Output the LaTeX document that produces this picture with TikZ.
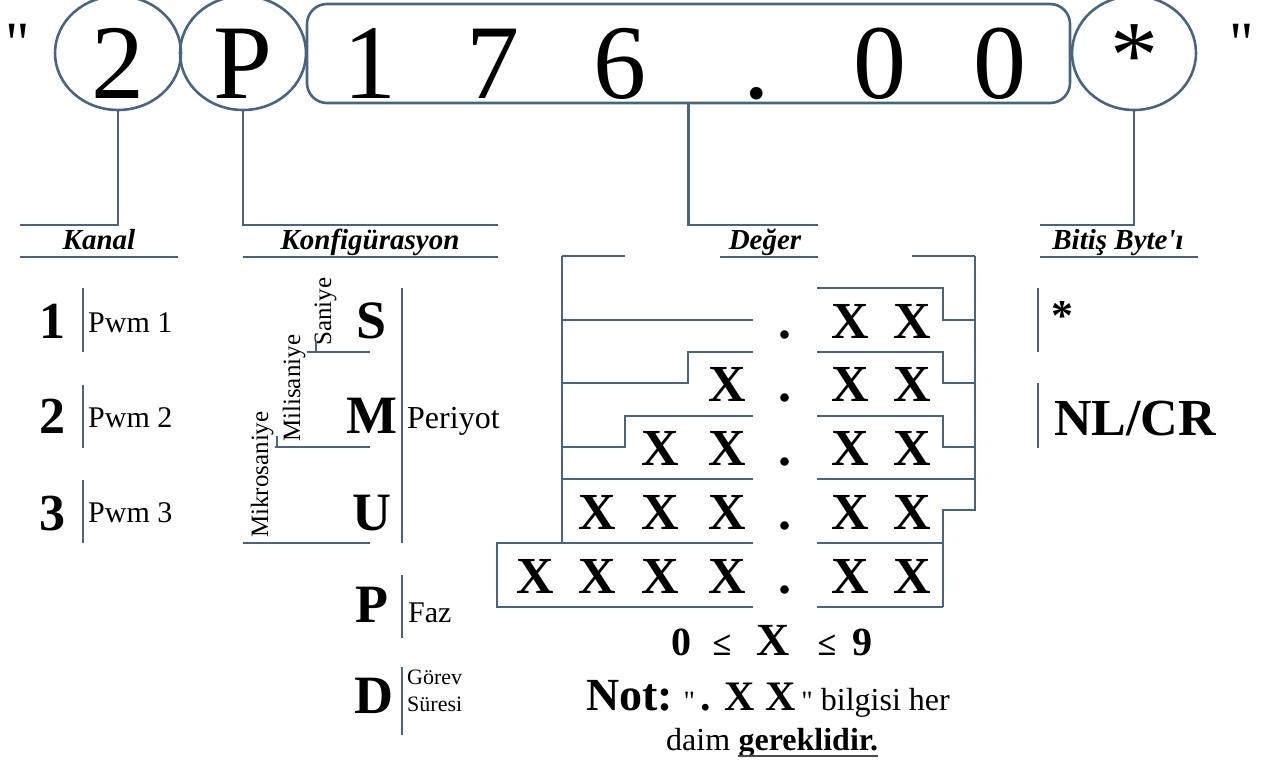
\documentclass[tikz,border=0pt]{standalone}
\usepackage{fontspec}
% plain family: straight quotes and apostrophes stay as typed
\newfontfamily\lib{Liberation Serif}
\newcommand\fsz[1]{\lib\fontsize{#1}{#1}\selectfont}
\usetikzlibrary{shapes.geometric}
\definecolor{lc}{HTML}{48647F}
\begin{document}
\begin{tikzpicture}[x=1pt,y=-1pt,
  ln/.style={draw=lc,line width=2.2pt},
  ring/.style={draw=lc,line width=2.6pt,inner sep=0pt},
  t/.style={inner sep=0pt,anchor=base,text=black},
  tl/.style={inner sep=0pt,anchor=base west,text=black},
  big/.style={t,font=\fsz{106}},
  hd/.style={t,font=\fsz{29}\bfseries\itshape},
  key/.style={t,font=\fsz{54}\bfseries},
  sm/.style={tl,font=\fsz{30}},
  vx/.style={t,font=\fsz{52}\bfseries},
  rot/.style={tl,rotate=90,font=\fsz{25}},
  qt/.style={t,font=\fsz{60}}]
\useasboundingbox (0,0) rectangle (1264,762);

% ---- command frame ----
\node[qt] (q1) at (18,64) {"};
\node[qt] (q2) at (1242,64) {"};
\node[ring,ellipse,minimum width=126pt,minimum height=114pt] (c2) at (118,53) {};
\node[ring,ellipse,minimum width=126pt,minimum height=114pt] (cP) at (243,53) {};
\node[ring,rounded corners=20pt,minimum width=763pt,minimum height=99pt] (val) at (688.5,53.5) {};
\node[ring,ellipse,minimum width=124pt,minimum height=114pt] (cS) at (1134,53) {};
\node[big] (d2) at (118,99) {2};
\node[big] (dP) at (243,99) {P};
\node[big] (v1) at (370,99) {1};
\node[big] (v2) at (493,99) {7};
\node[big] (v3) at (620,99) {6};
\node[big] (v4) at (757,99) {.};
\node[big] (v5) at (880,99) {0};
\node[big] (v6) at (1000,99) {0};
\node[t,font=\fsz{96}] (dS) at (1134,88) {*};

% ---- leaders to the headings ----
\coordinate (kA) at (20,225);
\coordinate (kB) at (498,225);
\coordinate (dA) at (818,225);
\coordinate (bA) at (1040,225);
\draw[ln] (c2.south) |- (kA);
\draw[ln] (cP.south) |- (kB);
\draw[ln] (val.south) |- (dA);
\draw[ln] (cS.south) |- (bA);

\draw[ln] (20,257) -- (178,257);
\draw[ln] (243,257) -- (498,257);
\draw[ln] (720,257) -- (818,257);
\draw[ln] (1040,257) -- (1198,257);
\node[hd] (hK) at (99,250) {Kanal};
\node[hd] (hC) at (370,250) {Konfigürasyon};
\node[hd] (hD) at (765,250) {Değer};
\node[hd] (hB) at (1118,250) {Bitiş Byte'ı};

% ---- channels ----
\node[key,font=\fsz{52}\bfseries] (k1) at (52,338) {1};
\node[key,font=\fsz{52}\bfseries] (k2) at (52,433) {2};
\node[key,font=\fsz{52}\bfseries] (k3) at (52,530) {3};
\draw[ln] (83,288) -- (83,352);
\draw[ln] (83,385) -- (83,448);
\draw[ln] (83,480) -- (83,543);
\node[sm] (p1) at (88,332) {Pwm 1};
\node[sm] (p2) at (88,427) {Pwm 2};
\node[sm] (p3) at (88,522) {Pwm 3};

% ---- configuration ----
\node[key] (cfS) at (372,338) {S};
\node[key] (cfM) at (372,433) {M};
\node[key] (cfU) at (372,530) {U};
\node[key] (cfP) at (372,622) {P};
\node[key] (cfD) at (374,713) {D};
\draw[ln] (402,288) -- (402,543);
\node[sm,font=\fsz{32}] (per) at (407,428) {Periyot};
\node[rot] (sn) at (331,346) {Saniye};
\node[rot] (ms) at (300,442) {Milisaniye};
\node[rot] (us) at (268,538) {Mikrosaniye};
\draw[ln] (307,352) -- (370,352);
\draw[ln] (316,341) -- (316,352);
\draw[ln] (275,447) -- (370,447);
\draw[ln] (277,436) -- (277,447);
\draw[ln] (243,543) -- (370,543);
\draw[ln] (402,575) -- (402,638);
\node[sm] (fz) at (408,622) {Faz};
\draw[ln] (402,667) -- (402,735);
\node[tl,font=\fsz{22}] (gv) at (407,684) {Görev};
\node[tl,font=\fsz{22}] (gs) at (407,711) {Süresi};

% ---- value formats ----
\draw[ln] (562,256) -- (625,256);
\draw[ln] (912,256) -- (975,256);
\draw[ln] (562,256) -- (562,543);
\draw[ln] (975,256) -- (975,510) -- (943,510) -- (943,607);
\draw[ln] (562,320) -- (753,320);
\draw[ln] (817,288) -- (943,288) -- (943,320) -- (975,320);
\draw[ln] (562,383) -- (688,383) -- (688,352) -- (753,352);
\draw[ln] (817,352) -- (943,352) -- (943,383) -- (975,383);
\draw[ln] (562,447) -- (625,447) -- (625,416) -- (753,416);
\draw[ln] (817,416) -- (943,416) -- (943,447) -- (975,447);
\draw[ln] (562,479) -- (753,479);
\draw[ln] (817,479) -- (975,479);
\draw[ln] (753,543) -- (497,543) -- (497,607) -- (753,607);
\draw[ln] (817,543) -- (943,543);
\draw[ln] (817,607) -- (943,607);

\foreach \r/\b in {1/338,2/401,3/465,4/529,5/593}{
  \node[vx] (r\r d) at (785,\b) {.};
  \node[vx] (r\r e) at (850,\b) {X};
  \node[vx] (r\r f) at (912,\b) {X};
}
\node[vx] (r2c) at (727,401) {X};
\node[vx] (r3b) at (660,465) {X};
\node[vx] (r3c) at (727,465) {X};
\node[vx] (r4a) at (597,529) {X};
\node[vx] (r4b) at (660,529) {X};
\node[vx] (r4c) at (727,529) {X};
\node[vx] (r5x) at (535,593) {X};
\node[vx] (r5a) at (597,593) {X};
\node[vx] (r5b) at (660,593) {X};
\node[vx] (r5c) at (727,593) {X};

% ---- range and note ----
\node[t,font=\fsz{40}\bfseries] (z0) at (681,655) {0};
\node[t,font=\fsz{34}\bfseries] (le1) at (722,655) {≤};
\node[t,font=\fsz{46}\bfseries] (zx) at (773,655) {X};
\node[t,font=\fsz{34}\bfseries] (le2) at (827,655) {≤};
\node[t,font=\fsz{40}\bfseries] (z9) at (862,655) {9};

\node[t,font=\fsz{32}] (nt) at (768,710)
  {{\fsz{46}\bfseries Not:} {\fsz{28}"}\,{\fsz{42}\bfseries . X X}\,{\fsz{28}"} bilgisi her};
\node[tl,font=\fsz{32}] (dm) at (666,750) {daim};
\node[tl,font=\fsz{32}\bfseries] (gk) at ([xshift=8pt]dm.base east) {gereklidir.};
\draw[black!70,line width=1.6pt] ([yshift=-6pt]gk.base west) -- ([yshift=-6pt]gk.base east);

% ---- end byte ----
\draw[ln] (1038,288) -- (1038,352);
\draw[ln] (1038,383) -- (1038,448);
\node[t,font=\fsz{44}\bfseries] (eA) at (1062,330) {*};
\node[t,font=\fsz{52}\bfseries] (eB) at (1135,435) {NL/CR};
\end{tikzpicture}
\end{document}
